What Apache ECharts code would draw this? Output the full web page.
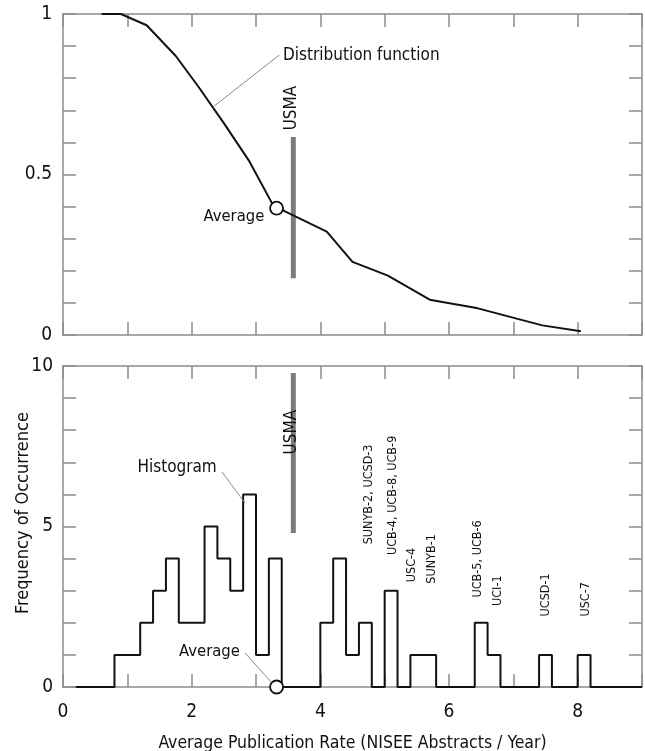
<!DOCTYPE html>
<html>
<head>
<meta charset="utf-8">
<script src="https://cdn.jsdelivr.net/npm/echarts@6/dist/echarts.min.js"></script>
<style>
  html, body { margin: 0; padding: 0; background: #fff; }
  #chartDom { width: 645px; height: 751px; }
</style>
</head>
<body>
<div id="chartDom"></div>
<script>
// distribution function (top panel)
const distX = [0.6, 0.9, 1.3, 1.75, 2.1, 2.5, 2.9, 3.25, 3.45, 4.1, 4.5, 5.05, 5.7, 6.45, 7.45, 8.05];
const distY = [1.0, 1.0, 0.965, 0.87, 0.775, 0.66, 0.54, 0.41, 0.385, 0.322, 0.228, 0.185, 0.11, 0.083, 0.03, 0.012];

// histogram (bottom panel): bin left edges where the count changes, and the counts
const histX = [0.2, 0.8, 1.2, 1.4, 1.6, 1.8, 2.2, 2.4, 2.6, 2.8, 3.0, 3.2, 3.4, 4.0, 4.2, 4.4, 4.6, 4.8, 5.0, 5.2, 5.4, 5.8, 6.4, 6.6, 6.8, 7.4, 7.6, 8.0, 8.2, 9.0];
const histY = [0, 1, 2, 3, 4, 2, 5, 4, 3, 6, 1, 4, 0, 2, 4, 1, 2, 0, 3, 0, 1, 0, 2, 1, 0, 1, 0, 1, 0, 0];

// average rate and USMA rate
const avgRate = 3.32;
const avgDist = 0.395;
const usmaRate = 3.58;
const usmaTop = [0.177, 0.617];
const usmaBottom = [4.8, 9.78];

// institution labels above the histogram: [x, y, text]
const instLabels = [
  [4.75, 6.0, 'SUNYB-2, UCSD-3'],
  [5.12, 5.97, 'UCB-4, UCB-8, UCB-9'],
  [5.42, 3.8, 'USC-4'],
  [5.73, 3.99, 'SUNYB-1'],
  [6.44, 3.99, 'UCB-5, UCB-6'],
  [6.75, 3.0, 'UCI-1'],
  [7.5, 2.87, 'UCSD-1'],
  [8.13, 2.73, 'USC-7']
];

const FONT = "'Liberation Sans Narrow', 'DejaVu Sans Condensed', 'Arial Narrow', sans-serif";
const AXIS_COLOR = '#8c8c8c';
const INK = '#111';

function boxAxis(extra) {
  return Object.assign({
    type: 'value',
    axisLine: { show: true, onZero: false, lineStyle: { color: AXIS_COLOR, width: 1.5 } },
    axisTick: { show: true, inside: true, length: 13, lineStyle: { color: AXIS_COLOR, width: 1.5 } },
    axisLabel: { show: false },
    splitLine: { show: false }
  }, extra);
}

function textPoint(xi, yi, x, y, text, align, rotate, size) {
  return {
    type: 'scatter',
    xAxisIndex: xi,
    yAxisIndex: yi,
    symbolSize: 0.1,
    itemStyle: { color: '#fff', opacity: 1 },
    silent: true,
    z: 5,
    data: [[x, y]],
    label: {
      show: true,
      position: 'inside',
      formatter: text,
      align: align || 'center',
      verticalAlign: 'middle',
      rotate: rotate || 0,
      fontFamily: FONT,
      fontSize: size || 17,
      color: INK,
      opacity: 1,
      textBorderWidth: 0
    }
  };
}

function leader(xi, yi, pts) {
  return {
    type: 'line', xAxisIndex: xi, yAxisIndex: yi, data: pts,
    symbol: 'none', silent: true,
    lineStyle: { color: '#8a8a8a', width: 1 }
  };
}

const myChart = echarts.init(document.getElementById('chartDom'), null, { renderer: 'canvas' });

const series = [
  // top panel
  {
    type: 'line', xAxisIndex: 0, yAxisIndex: 0,
    data: distX.map((x, i) => [x, distY[i]]),
    symbol: 'none',
    lineStyle: { color: INK, width: 2 }
  },
  {
    type: 'line', xAxisIndex: 0, yAxisIndex: 0,
    data: [[usmaRate, usmaTop[0]], [usmaRate, usmaTop[1]]],
    symbol: 'none', z: 1,
    lineStyle: { color: '#7c7c7c', width: 5, cap: 'butt' }
  },
  leader(0, 0, [[3.36, 0.872], [2.33, 0.71]]),
  {
    type: 'scatter', xAxisIndex: 0, yAxisIndex: 0,
    data: [[avgRate, avgDist]],
    symbol: 'circle', symbolSize: 13, z: 6,
    itemStyle: { color: '#fff', borderColor: INK, borderWidth: 1.8, opacity: 1 }
  },
  textPoint(0, 0, 3.42, 0.872, 'Distribution function', 'left'),
  textPoint(0, 0, 3.13, 0.368, 'Average', 'right', 0, 16.5),
  textPoint(0, 0, 3.56, 0.707, 'USMA', 'center', 90),

  // bottom panel
  {
    type: 'line', xAxisIndex: 2, yAxisIndex: 2,
    data: histX.map((x, i) => [x, histY[i]]),
    step: 'end',
    symbol: 'none',
    lineStyle: { color: INK, width: 2 }
  },
  {
    type: 'line', xAxisIndex: 2, yAxisIndex: 2,
    data: [[usmaRate, usmaBottom[0]], [usmaRate, usmaBottom[1]]],
    symbol: 'none', z: 1,
    lineStyle: { color: '#7c7c7c', width: 5, cap: 'butt' }
  },
  leader(2, 2, [[2.47, 6.70], [2.83, 5.73]]),
  leader(2, 2, [[2.83, 1.06], [3.25, 0.12]]),
  {
    type: 'scatter', xAxisIndex: 2, yAxisIndex: 2,
    data: [[avgRate, 0]],
    symbol: 'circle', symbolSize: 13, z: 6,
    itemStyle: { color: '#fff', borderColor: INK, borderWidth: 1.8, opacity: 1 }
  },
  textPoint(2, 2, 2.39, 6.82, 'Histogram', 'right'),
  textPoint(2, 2, 2.75, 1.09, 'Average', 'right', 0, 16.5),
  textPoint(2, 2, 3.56, 7.94, 'USMA', 'center', 90)
];

instLabels.forEach(item => {
  series.push(textPoint(2, 2, item[0], item[1], item[2], 'center', 90, 12.5));
});

const option = {
  animation: false,
  backgroundColor: '#fff',
  textStyle: { fontFamily: FONT },
  grid: [
    { left: 63, right: 3, top: 14, height: 321, outerBoundsMode: 'none' },
    { left: 63, right: 3, top: 366, height: 321, outerBoundsMode: 'none' }
  ],
  xAxis: [
    boxAxis({ gridIndex: 0, position: 'bottom', min: 0, max: 9, interval: 1 }),
    boxAxis({ gridIndex: 0, position: 'top', min: 0, max: 9, interval: 1 }),
    boxAxis({
      gridIndex: 1, position: 'bottom', min: 0, max: 9, interval: 1,
      axisLabel: {
        show: true, margin: 16, fontSize: 19, color: INK, fontFamily: FONT,
        formatter: v => (v % 2 === 0 ? String(v) : '')
      },
      name: 'Average Publication Rate (NISEE Abstracts / Year)',
      nameLocation: 'middle',
      nameGap: 47,
      nameMoveOverlap: false,
      nameTextStyle: { fontSize: 17.5, color: INK, fontFamily: FONT }
    }),
    boxAxis({ gridIndex: 1, position: 'top', min: 0, max: 9, interval: 1 })
  ],
  yAxis: [
    boxAxis({
      gridIndex: 0, position: 'left', min: 0, max: 1, interval: 0.1,
      axisLabel: {
        show: true, margin: 11, fontSize: 19, color: INK, fontFamily: FONT,
        formatter: v => (Math.abs(v * 2 - Math.round(v * 2)) < 1e-6 ? String(Math.round(v * 10) / 10) : '')
      }
    }),
    boxAxis({ gridIndex: 0, position: 'right', min: 0, max: 1, interval: 0.1 }),
    boxAxis({
      gridIndex: 1, position: 'left', min: 0, max: 10, interval: 1,
      axisLabel: {
        show: true, margin: 10, fontSize: 19, color: INK, fontFamily: FONT,
        formatter: v => (v % 5 === 0 ? String(v) : '')
      },
      name: 'Frequency of Occurrence',
      nameLocation: 'middle',
      nameRotate: 90,
      nameGap: 31,
      nameMoveOverlap: false,
      nameTextStyle: { fontSize: 18, color: INK, fontFamily: FONT, padding: [0, 0, 0, 27] }
    }),
    boxAxis({ gridIndex: 1, position: 'right', min: 0, max: 10, interval: 1 })
  ],
  series: series
};

option && myChart.setOption(option);
</script>
</body>
</html>
